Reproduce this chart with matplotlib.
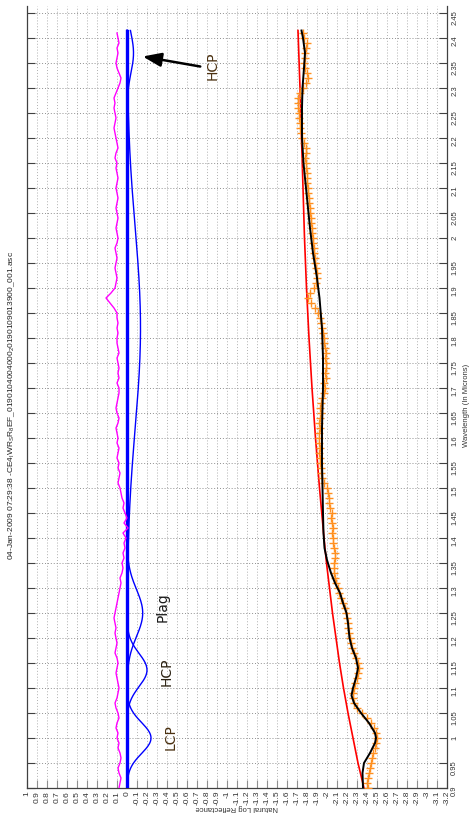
import numpy as np
import matplotlib
matplotlib.use('Agg')
import matplotlib.pyplot as plt

# Sample grid of the spectrum (microns)
wavelength = np.round(np.arange(0.90, 2.415, 0.01), 2)

# Measured spectrum, natural log reflectance (orange +)
spectrum = [
    -2.41, -2.40, -2.41, -2.42, -2.43, -2.44, -2.45, -2.46, -2.48, -2.49,
    -2.50, -2.49, -2.47, -2.44, -2.40, -2.35, -2.30, -2.27, -2.26, -2.26,
    -2.27, -2.28, -2.30, -2.31, -2.32, -2.31, -2.29, -2.27, -2.25, -2.24,
    -2.23, -2.22, -2.21, -2.21, -2.20, -2.19, -2.18, -2.16, -2.14, -2.12,
    -2.11, -2.09, -2.08, -2.07, -2.07, -2.07, -2.08, -2.08, -2.07, -2.06,
    -2.06, -2.05, -2.06, -2.05, -2.04, -2.05, -2.03, -2.02, -2.02, -2.01,
    -2.00, -1.97, -1.95, -1.94, -1.94, -1.93, -1.93, -1.92, -1.93, -1.92,
    -1.92, -1.92, -1.93, -1.92, -1.93, -1.94, -1.93, -1.94, -1.95, -1.97,
    -1.98, -1.97, -1.99, -1.98, -1.99, -1.99, -1.98, -1.99, -1.98, -1.97,
    -1.97, -1.96, -1.95, -1.94, -1.93, -1.91, -1.88, -1.84, -1.81, -1.83,
    -1.87, -1.89, -1.90, -1.90, -1.89, -1.88, -1.88, -1.87, -1.87, -1.86,
    -1.86, -1.85, -1.85, -1.84, -1.84, -1.83, -1.83, -1.82, -1.82, -1.81,
    -1.81, -1.80, -1.80, -1.80, -1.79, -1.79, -1.78, -1.79, -1.79, -1.77,
    -1.75, -1.74, -1.73, -1.73, -1.72, -1.72, -1.71, -1.71, -1.71, -1.73,
    -1.76, -1.79, -1.81, -1.80, -1.78, -1.77, -1.78, -1.78, -1.79, -1.80,
    -1.77, -1.76,
]

# Residual, offset (magenta)
residual = [
    0.08, 0.07, 0.06, 0.08, 0.09, 0.07, 0.06, 0.07, 0.09, 0.08,
    0.10, 0.09, 0.11, 0.10, 0.08, 0.09, 0.11, 0.12, 0.10, 0.09,
    0.08, 0.09, 0.10, 0.11, 0.10, 0.09, 0.10, 0.12, 0.11, 0.10,
    0.11, 0.12, 0.11, 0.12, 0.13, 0.12, 0.11, 0.10, 0.09, 0.08,
    0.07, 0.06, 0.07, 0.05, 0.04, 0.05, 0.03, 0.04, 0.02, 0.03,
    0.01, 0.04, -0.01, 0.03, 0.00, 0.02, 0.04, 0.03, 0.05, 0.06,
    0.07, 0.09, 0.08, 0.07, 0.09, 0.08, 0.10, 0.09, 0.08, 0.10,
    0.09, 0.10, 0.11, 0.09, 0.08, 0.10, 0.11, 0.10, 0.09, 0.08,
    0.08, 0.10, 0.08, 0.09, 0.08, 0.09, 0.10, 0.08, 0.09, 0.10,
    0.10, 0.09, 0.10, 0.09, 0.10, 0.10, 0.13, 0.17, 0.21, 0.16,
    0.12, 0.11, 0.10, 0.11, 0.12, 0.11, 0.10, 0.11, 0.12, 0.10,
    0.09, 0.10, 0.11, 0.10, 0.09, 0.10, 0.11, 0.10, 0.09, 0.10,
    0.11, 0.10, 0.09, 0.10, 0.11, 0.10, 0.12, 0.11, 0.09, 0.10,
    0.11, 0.12, 0.13, 0.12, 0.11, 0.12, 0.13, 0.12, 0.13, 0.11,
    0.09, 0.07, 0.06, 0.08, 0.10, 0.11, 0.10, 0.09, 0.10, 0.08,
    0.09, 0.10,
]

# Modelled fit (black)
fit_wl = [0.90, 0.93, 0.95, 0.97, 0.99, 1.00, 1.01, 1.03, 1.05, 1.07, 1.085,
          1.10, 1.12, 1.14, 1.16, 1.18, 1.20, 1.23, 1.25, 1.27, 1.29, 1.31,
          1.33, 1.356, 1.38, 1.41, 1.45, 1.50, 1.55, 1.62, 1.70, 1.76, 1.82,
          1.88, 1.92, 1.97, 2.02, 2.08, 2.15, 2.20, 2.26, 2.30, 2.34, 2.37,
          2.40, 2.415]
fit_val = [-2.36, -2.355, -2.37, -2.43, -2.48, -2.49, -2.48, -2.42, -2.34,
           -2.27, -2.245, -2.26, -2.29, -2.31, -2.29, -2.25, -2.225, -2.21,
           -2.195, -2.16, -2.13, -2.08, -2.04, -2.00, -1.975, -1.965, -1.96,
           -1.955, -1.95, -1.95, -1.96, -1.96, -1.95, -1.925, -1.90, -1.86,
           -1.83, -1.80, -1.765, -1.75, -1.75, -1.755, -1.77, -1.78, -1.76,
           -1.745]

# Continuum (red)
cont_wl = [0.90, 0.95, 1.00, 1.05, 1.10, 1.15, 1.20, 1.25, 1.30, 1.35, 1.40,
           1.50, 1.60, 1.70, 1.80, 1.90, 2.00, 2.10, 2.20, 2.30, 2.415]
cont_val = [-2.37, -2.31, -2.26, -2.21, -2.165, -2.125, -2.09, -2.055, -2.025,
            -1.995, -1.97, -1.925, -1.885, -1.85, -1.82, -1.795, -1.775, -1.76,
            -1.745, -1.73, -1.71]

# Modified Gaussian bands (blue): centre, width, strength
band_center = [1.00, 1.136, 1.25, 1.82, 2.37]
band_width = [0.031, 0.033, 0.047, 0.20, 0.04]
band_depth = [-0.24, -0.20, -0.157, -0.135, -0.065]

title = r'04-Jan-2009 07:29:38 -CE4$_{\rm I}$WR$_{\rm S}$R$_{\rm 8}$EF_0190104004000$_{\rm 2}$0190109013900_001.asc'

plt.rcParams['font.family'] = ['Liberation Sans', 'DejaVu Sans']
plt.rcParams['mathtext.fontset'] = 'custom'
plt.rcParams['mathtext.rm'] = 'Liberation Sans'

fig = plt.figure(figsize=(4.69, 8.14), dpi=100)
ax = fig.add_axes([27 / 469, 1 - 788 / 814, 420 / 469, 782 / 814])

wl_fine = np.linspace(0.90, 2.415, 600)
ax.plot([0, 0], [0.90, 2.415], color='#0000ff', lw=2.4, zorder=3)
for c, w, d in zip(band_center, band_width, band_depth):
    ax.plot(d * np.exp(-(wl_fine - c) ** 2 / (2 * w ** 2)), wl_fine,
            color='#0000ff', lw=1.0, zorder=3)
ax.plot(residual, wavelength, color='#ff00ff', lw=1.0, zorder=3)
ax.plot(cont_val, cont_wl, color='#ff0000', lw=1.2, zorder=3)
ax.plot(spectrum, wavelength, ls='none', marker='+', ms=5.5, mew=1.0,
        color='#ff9020', zorder=3)
ax.plot(fit_val, fit_wl, color='black', lw=1.4, zorder=4)

# labels of the bands
txt = dict(rotation=90, ha='center', va='center', fontsize=10,
           family=['DejaVu Sans'], zorder=5)
ax.text(-0.44, 1.002, 'LCP', color='#4a3010', **txt)
ax.text(-0.40, 1.132, 'HCP', color='#2a2010', **txt)
ax.text(-0.36, 1.262, 'Plag', color='#1a1a1a', **txt)
ax.text(-0.86, 2.344, 'HCP', color='#4a3010', **txt)
ax.annotate('', xy=(-0.13, 2.364), xytext=(-0.76, 2.342),
            arrowprops=dict(arrowstyle='-|>,head_length=0.8,head_width=0.3',
                            color='black', lw=1.8, mutation_scale=14),
            zorder=5)

ax.set_xlim(1, -3.2)
ax.set_ylim(0.9, 2.464)

xt = np.round(np.arange(1.0, -3.25, -0.1), 1)
ax.set_xticks(xt)
ax.set_xticklabels(['%g' % v for v in xt])
yt = np.round(np.arange(0.90, 2.46, 0.05), 2)
ax.set_yticks(yt)
ax.set_yticklabels(['%g' % v for v in yt])
ax.yaxis.tick_right()

ax.tick_params(axis='x', direction='in', length=6, width=0.8, color='#909090',
               labelrotation=90, labelsize=6, labelcolor='#333333', pad=2)
ax.tick_params(axis='y', direction='in', length=6, width=0.8, color='#404040',
               labelrotation=90, labelsize=5.5, labelcolor='#333333', pad=3,
               left=True, right=True)

ax.xaxis.grid(True, color='#b0b0b0', ls=(0, (1, 2)), lw=0.7)
ax.yaxis.grid(True, color='#909090', ls=(0, (1, 2)), lw=0.7)
ax.set_axisbelow(True)
for side in ['left', 'right', 'bottom']:
    ax.spines[side].set_color('#404040')
    ax.spines[side].set_linewidth(0.9)
ax.spines['top'].set_visible(False)

fig.text(12 / 469, 1 - 405 / 814, title, rotation=90, ha='center',
         va='center', fontsize=6, color='#222222')
fig.text(466 / 469, 1 - 405 / 814, 'Wavelength (In Microns)', rotation=90,
         ha='center', va='center', fontsize=5.5, color='#333333')
fig.text(237 / 469, 1 - 808 / 814, 'Natural Log Reflectance', rotation=180,
         ha='center', va='center', fontsize=5.5, color='#333333')

fig.savefig('out.png', dpi=100)
